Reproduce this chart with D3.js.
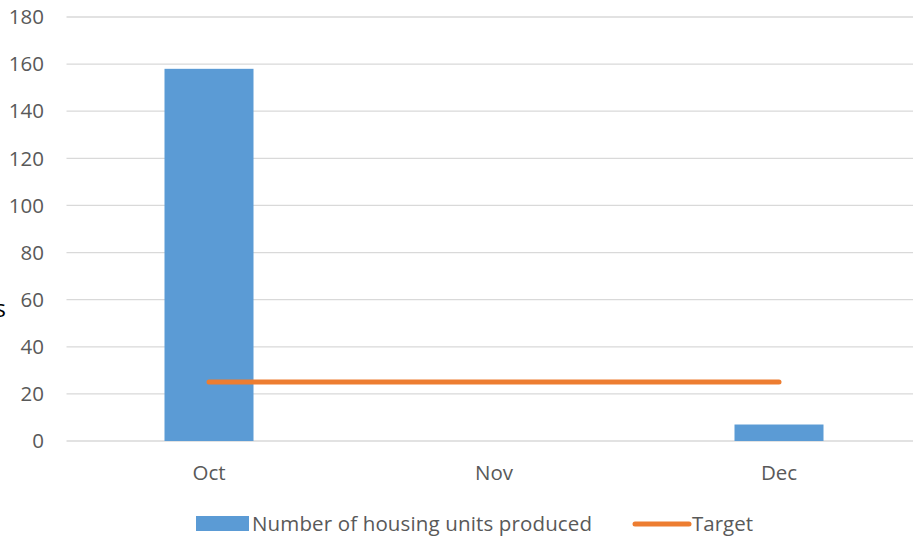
<!DOCTYPE html>
<html>
<head>
<meta charset="utf-8">
<script src="https://cdn.jsdelivr.net/npm/d3@7"></script>
<style>
  body { margin: 0; background: #fff; }
  text { font-family: "Open Sans", "Noto Sans", sans-serif; fill: #595959; }
</style>
</head>
<body>
<svg id="chart" width="913" height="540"></svg>
<script>
const months = ["Oct", "Nov", "Dec"];
const unitsProduced = [158, 0, 7];
const target = [25, 25, 25];
const yTicks = [0, 20, 40, 60, 80, 100, 120, 140, 160, 180];

const svg = d3.select("#chart");
const plotLeft = 66.5, plotRight = 921.5, plotTop = 17, plotBottom = 441;

const x = d3.scaleBand().domain(months).range([plotLeft, plotRight]);
const y = d3.scaleLinear().domain([0, 180]).range([plotBottom, plotTop]);
const barW = 89;

// grid
svg.append("g").selectAll("line")
  .data(yTicks)
  .join("line")
  .attr("x1", plotLeft).attr("x2", plotRight)
  .attr("y1", d => y(d)).attr("y2", d => y(d))
  .attr("stroke", "#d9d9d9").attr("stroke-width", 1.3);

// y labels
svg.append("g").selectAll("text")
  .data(yTicks)
  .join("text")
  .attr("x", 44).attr("y", d => y(d))
  .attr("dy", "0.35em")
  .attr("text-anchor", "end")
  .style("font-size", "20.5px")
  .text(d => d);

// cut-off axis title on the left edge (clipped in the original too)
svg.append("text")
  .attr("x", 6).attr("y", 317)
  .attr("text-anchor", "end")
  .style("font-size", "24px")
  .style("fill", "#000")
  .text("Units");

// bars
svg.append("g").selectAll("rect")
  .data(unitsProduced)
  .join("rect")
  .attr("x", (d, i) => x(months[i]) + x.bandwidth() / 2 - barW / 2)
  .attr("width", barW)
  .attr("y", d => y(d))
  .attr("height", d => plotBottom - y(d))
  .attr("fill", "#5b9bd5");

// target line
const line = d3.line()
  .x((d, i) => x(months[i]) + x.bandwidth() / 2)
  .y(d => y(d));
svg.append("path")
  .datum(target)
  .attr("d", line)
  .attr("fill", "none")
  .attr("stroke", "#ed7d31")
  .attr("stroke-width", 5)
  .attr("stroke-linecap", "round");

// x labels
svg.append("g").selectAll("text")
  .data(months)
  .join("text")
  .attr("x", d => x(d) + x.bandwidth() / 2)
  .attr("y", 480)
  .attr("text-anchor", "middle")
  .style("font-size", "20.5px")
  .text(d => d);

// legend
const lg = svg.append("g");
lg.append("rect").attr("x", 196).attr("y", 516).attr("width", 53).attr("height", 15).attr("fill", "#5b9bd5");
lg.append("text").attr("x", 252).attr("y", 531).style("font-size", "20.5px")
  .attr("textLength", 340).text("Number of housing units produced");
lg.append("line").attr("x1", 635).attr("x2", 689).attr("y1", 524).attr("y2", 524)
  .attr("stroke", "#ed7d31").attr("stroke-width", 5).attr("stroke-linecap", "round");
lg.append("text").attr("x", 692).attr("y", 531).style("font-size", "20.5px").text("Target");
</script>
</body>
</html>
